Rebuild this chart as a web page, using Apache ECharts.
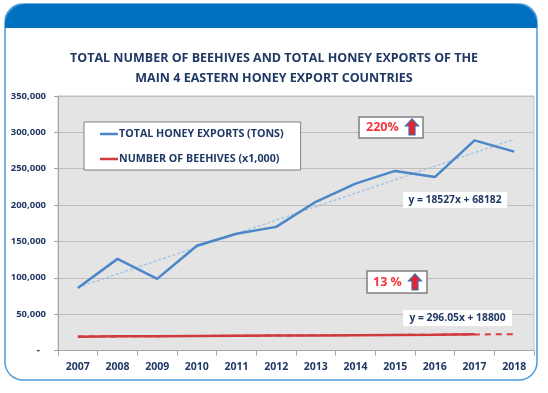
<!DOCTYPE html>
<html>
<head>
<meta charset="utf-8">
<script src="https://cdn.jsdelivr.net/npm/echarts@6/dist/echarts.min.js"></script>
<style>
html,body{margin:0;padding:0;background:#fff;}
#chart{width:548px;height:393px;}
</style>
</head>
<body>
<div id="chart"></div>
<script>
// ---- data ----
var years = ['2007','2008','2009','2010','2011','2012','2013','2014','2015','2016','2017','2018'];
var honeyExports = [86000, 126000, 98500, 144000, 160500, 170000, 204500, 229500, 247000, 238500, 289000, 273500];
var beehives = [19000, 19500, 19600, 20000, 20300, 20500, 20600, 21000, 21300, 21700, 22300, null];
var honeyTrend = [86700, null, null, null, null, null, null, null, null, null, null, 290500];
var hiveTrend = [19100, null, null, null, null, null, null, null, null, null, null, 22350];
var legendNames = ['TOTAL HONEY EXPORTS (TONS)', 'NUMBER OF BEEHIVES (x1,000)'];
var titleLines = ['TOTAL NUMBER OF BEEHIVES AND TOTAL HONEY EXPORTS OF THE', 'MAIN 4 EASTERN HONEY EXPORT COUNTRIES'];
var honeyEquation = 'y = 18527x + 68182';
var hiveEquation = 'y = 296.05x + 18800';
var honeyGrowth = '220%';
var hiveGrowth = '13 %';

var NAVY = '#1F3864';
var FONT = '"Open Sans"';

function arrow(cx, top) {
  return {
    type: 'polygon',
    shape: { points: [[cx, top], [cx + 6.5, top + 7], [cx + 3, top + 7], [cx + 3, top + 16], [cx - 3, top + 16], [cx - 3, top + 7], [cx - 6.5, top + 7]] },
    style: { fill: '#E8232B', stroke: '#3D6FB0', lineWidth: 1.2 },
    z: 100
  };
}

var chart = echarts.init(document.getElementById('chart'), null, { renderer: 'canvas' });
chart.setOption({
  backgroundColor: '#ffffff',
  animation: false,
  title: {
    text: titleLines.join('\n'),
    left: 'center',
    top: 48,
    padding: [0, 0, 0, 14],
    textStyle: { color: NAVY, fontFamily: FONT, fontWeight: 'bold', fontSize: 12.5, lineHeight: 20 }
  },
  grid: {
    left: 58, right: 14, top: 96, bottom: 42.5,
    show: true, backgroundColor: '#E4E4E4', borderColor: '#C4C4C4', borderWidth: 1
  },
  legend: {
    data: legendNames,
    orient: 'vertical',
    left: 84, top: 122,
    padding: [5, 17, 4, 16],
    itemGap: 11,
    itemWidth: 18,
    itemHeight: 14,
    icon: 'path://M0,0 L18,0 L18,2.5 L0,2.5 Z',
    backgroundColor: '#ffffff',
    borderColor: '#7F7F7F',
    borderWidth: 1,
    textStyle: { color: NAVY, fontFamily: FONT, fontWeight: 'bold', fontSize: 10.7, lineHeight: 14, padding: [0, 0, 0, -4] }
  },
  xAxis: {
    type: 'category',
    data: years,
    boundaryGap: true,
    axisLine: { lineStyle: { color: '#A6A6A6', width: 1 } },
    axisTick: { show: true, length: 5, lineStyle: { color: '#A6A6A6' } },
    axisLabel: { color: NAVY, fontFamily: FONT, fontWeight: 'bold', fontSize: 10.5, margin: 11 }
  },
  yAxis: {
    type: 'value',
    min: 0, max: 350000, interval: 50000,
    axisLine: { show: true, lineStyle: { color: '#A6A6A6' } },
    axisTick: { show: true, length: 4, lineStyle: { color: '#A6A6A6' } },
    splitLine: { lineStyle: { color: '#BEBEBE', width: 1 } },
    axisLabel: {
      color: NAVY, fontFamily: FONT, fontWeight: 'bold', fontSize: 9.5, margin: 12,
      formatter: function (v) {
        if (v === 0) return '{z|-}';
        return v.toString().replace(/\B(?=(\d{3})+(?!\d))/g, ',');
      },
      rich: { z: { padding: [0, 6, 0, 0], color: NAVY, fontWeight: 'bold', fontSize: 10 } }
    }
  },
  series: [
    {
      name: 'honeyTrend', type: 'line', data: honeyTrend, connectNulls: true,
      symbol: 'none', silent: true, z: 2,
      lineStyle: { color: '#9DC3E6', width: 1.3, type: [3, 2] }
    },
    {
      name: 'hiveTrend', type: 'line', data: hiveTrend, connectNulls: true,
      symbol: 'none', silent: true, z: 2,
      lineStyle: { color: '#E0393E', width: 2, type: [6, 5] }
    },
    {
      name: legendNames[0], type: 'line', data: honeyExports,
      symbol: 'none', z: 3, color: '#4A86C8',
      lineStyle: { color: '#4A86C8', width: 2.5 }
    },
    {
      name: legendNames[1], type: 'line', data: beehives,
      symbol: 'none', z: 3, color: '#CF3A3D',
      lineStyle: { color: '#CF3A3D', width: 2.5 }
    }
  ],
  graphic: [
    { type: 'rect', z: -10, silent: true, shape: { x: 5, y: 4, width: 532, height: 376, r: 18 },
      style: { fill: 'none', stroke: '#4D9BD8', lineWidth: 1.5 } },
    { type: 'rect', z: -9, silent: true, shape: { x: 5, y: 4, width: 532, height: 24, r: [20, 20, 0, 0] },
      style: { fill: '#0070C0' } },
    // 220% box
    { type: 'rect', z: 100, shape: { x: 359, y: 117, width: 64, height: 21 },
      style: { fill: '#ffffff', stroke: '#7F7F7F', lineWidth: 1.5 } },
    { type: 'text', z: 101, x: 366, y: 127.5,
      style: { text: honeyGrowth, fill: '#F2363C', font: 'bold 12.5px "Open Sans"', textVerticalAlign: 'middle', textAlign: 'left' } },
    arrow(412, 119),
    // 13% box
    { type: 'rect', z: 100, shape: { x: 367, y: 271, width: 60, height: 22 },
      style: { fill: '#ffffff', stroke: '#7F7F7F', lineWidth: 1.5 } },
    { type: 'text', z: 101, x: 373, y: 282,
      style: { text: hiveGrowth, fill: '#F2363C', font: 'bold 12.5px "Open Sans"', textVerticalAlign: 'middle', textAlign: 'left' } },
    arrow(415, 274),
    // equations
    { type: 'rect', z: 100, shape: { x: 403, y: 192, width: 104, height: 16 }, style: { fill: '#ffffff' } },
    { type: 'text', z: 101, x: 455, y: 200,
      style: { text: honeyEquation, fill: NAVY, font: 'bold 10.3px "Open Sans"', textAlign: 'center', textVerticalAlign: 'middle' } },
    { type: 'rect', z: 100, shape: { x: 403, y: 310, width: 109, height: 16 }, style: { fill: '#ffffff' } },
    { type: 'text', z: 101, x: 457.5, y: 318,
      style: { text: hiveEquation, fill: NAVY, font: 'bold 10.3px "Open Sans"', textAlign: 'center', textVerticalAlign: 'middle' } }
  ]
});
</script>
</body>
</html>
